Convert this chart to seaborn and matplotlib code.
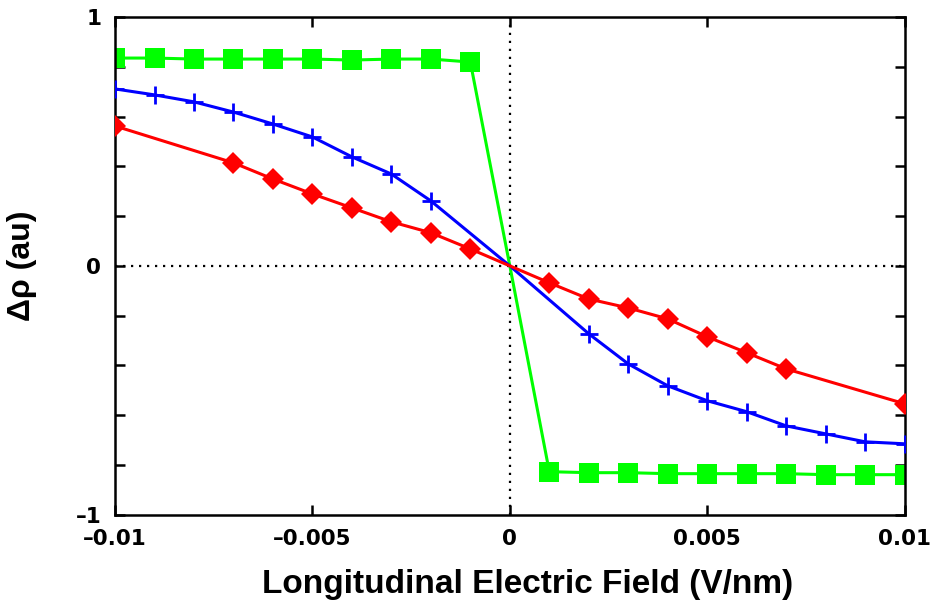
#!/usr/bin/env python3

import numpy as np
import matplotlib
matplotlib.use("Agg")
import matplotlib.pyplot as plt
import seaborn as sns

# Green squares (step response)
green_x = [-0.010, -0.009, -0.008, -0.007, -0.006, -0.005, -0.004, -0.003, -0.002, -0.001,
           0.0,
           0.001, 0.002, 0.003, 0.004, 0.005, 0.006, 0.007, 0.008, 0.009, 0.010]
green_y = [0.835, 0.835, 0.831, 0.831, 0.831, 0.831, 0.827, 0.831, 0.831, 0.819,
           0.0,
           -0.827, -0.831, -0.831, -0.835, -0.835, -0.835, -0.835, -0.839, -0.839, -0.839]

# Blue crosses
blue_x = [-0.010, -0.009, -0.008, -0.007, -0.006, -0.005, -0.004, -0.003, -0.002,
          0.0,
          0.002, 0.003, 0.004, 0.005, 0.006, 0.007, 0.008, 0.009, 0.010]
blue_y = [0.711, 0.687, 0.659, 0.618, 0.570, 0.518, 0.438, 0.369, 0.261,
          0.0,
          -0.273, -0.394, -0.482, -0.542, -0.586, -0.643, -0.675, -0.707, -0.715]

# Red diamonds
red_x = [-0.010, -0.007, -0.006, -0.005, -0.004, -0.003, -0.002, -0.001,
         0.0,
         0.001, 0.002, 0.003, 0.004, 0.005, 0.006, 0.007, 0.010]
red_y = [0.562, 0.414, 0.349, 0.289, 0.233, 0.177, 0.133, 0.068,
         0.0,
         -0.068, -0.133, -0.169, -0.213, -0.285, -0.349, -0.414, -0.554]

x_ticks = [-0.01, -0.005, 0, 0.005, 0.01]
x_tick_labels = ["\u20130.01", "\u20130.005", "0", "0.005", "0.01"]
y_ticks = [-1, 0, 1]
y_tick_labels = ["\u20131", "0", "1"]


def marked(xs):
    # markers everywhere except the line-only point at the origin
    return [i for i, v in enumerate(xs) if v != 0.0]


sns.set_style("ticks")
plt.rcParams['font.family'] = ['DejaVu Sans']
plt.rcParams['text.color'] = 'black'
plt.rcParams['axes.labelcolor'] = 'black'
plt.rcParams['xtick.color'] = 'black'
plt.rcParams['ytick.color'] = 'black'

label_font = ["Liberation Sans", "DejaVu Sans"]

fig = plt.figure(figsize=(9.3, 6.07), dpi=100)
ax = fig.add_axes([0.1237, 0.152, 0.849, 0.820])

ax.axhline(0, color="black", lw=1.6, ls=(0, (1, 2.6)), zorder=1)
ax.axvline(0, color="black", lw=1.6, ls=(0, (1, 2.6)), zorder=1)

sns.lineplot(x=green_x, y=green_y, ax=ax, color="#00ff00", lw=2.2, sort=False,
             estimator=None, marker="s", markersize=14, markeredgewidth=0,
             markeredgecolor="#00ff00", markevery=marked(green_x), zorder=2)
sns.lineplot(x=blue_x, y=blue_y, ax=ax, color="#0000ff", lw=2.2, sort=False,
             estimator=None, marker="+", markersize=13, markeredgewidth=2,
             markeredgecolor="#0000ff", markevery=marked(blue_x), zorder=3)
sns.lineplot(x=red_x, y=red_y, ax=ax, color="#ff0000", lw=2.2, sort=False,
             estimator=None, marker="D", markersize=11, markeredgewidth=0,
             markeredgecolor="#ff0000", markevery=marked(red_x), zorder=4)

ax.set_xlim(-0.01, 0.01)
ax.set_ylim(-1, 1)
ax.set_xticks(x_ticks)
ax.set_xticklabels(x_tick_labels)
ax.set_yticks(y_ticks)
ax.set_yticklabels(y_tick_labels)
ax.set_yticks(np.arange(-0.8, 0.81, 0.2), minor=True)

for sp in ax.spines.values():
    sp.set_visible(True)
    sp.set_linewidth(1.8)
    sp.set_color("black")

ax.tick_params(which="both", direction="in", top=True, right=True,
               length=7, width=1.8, color="black")
ax.tick_params(axis="both", which="major", labelsize=15.5, pad=10, labelcolor="black")
for lab in ax.get_xticklabels() + ax.get_yticklabels():
    lab.set_fontweight("bold")

ax.set_xlabel("Longitudinal Electric Field (V/nm)", fontsize=24, fontweight="bold",
              family=label_font, color="black")
ax.xaxis.set_label_coords(0.522, -0.11)
ax.set_ylabel("\u0394\u03c1 (au)", fontsize=23, fontweight="bold",
              family=label_font, labelpad=28, color="black")

fig.savefig("out.png", dpi=100)
plt.close(fig)
